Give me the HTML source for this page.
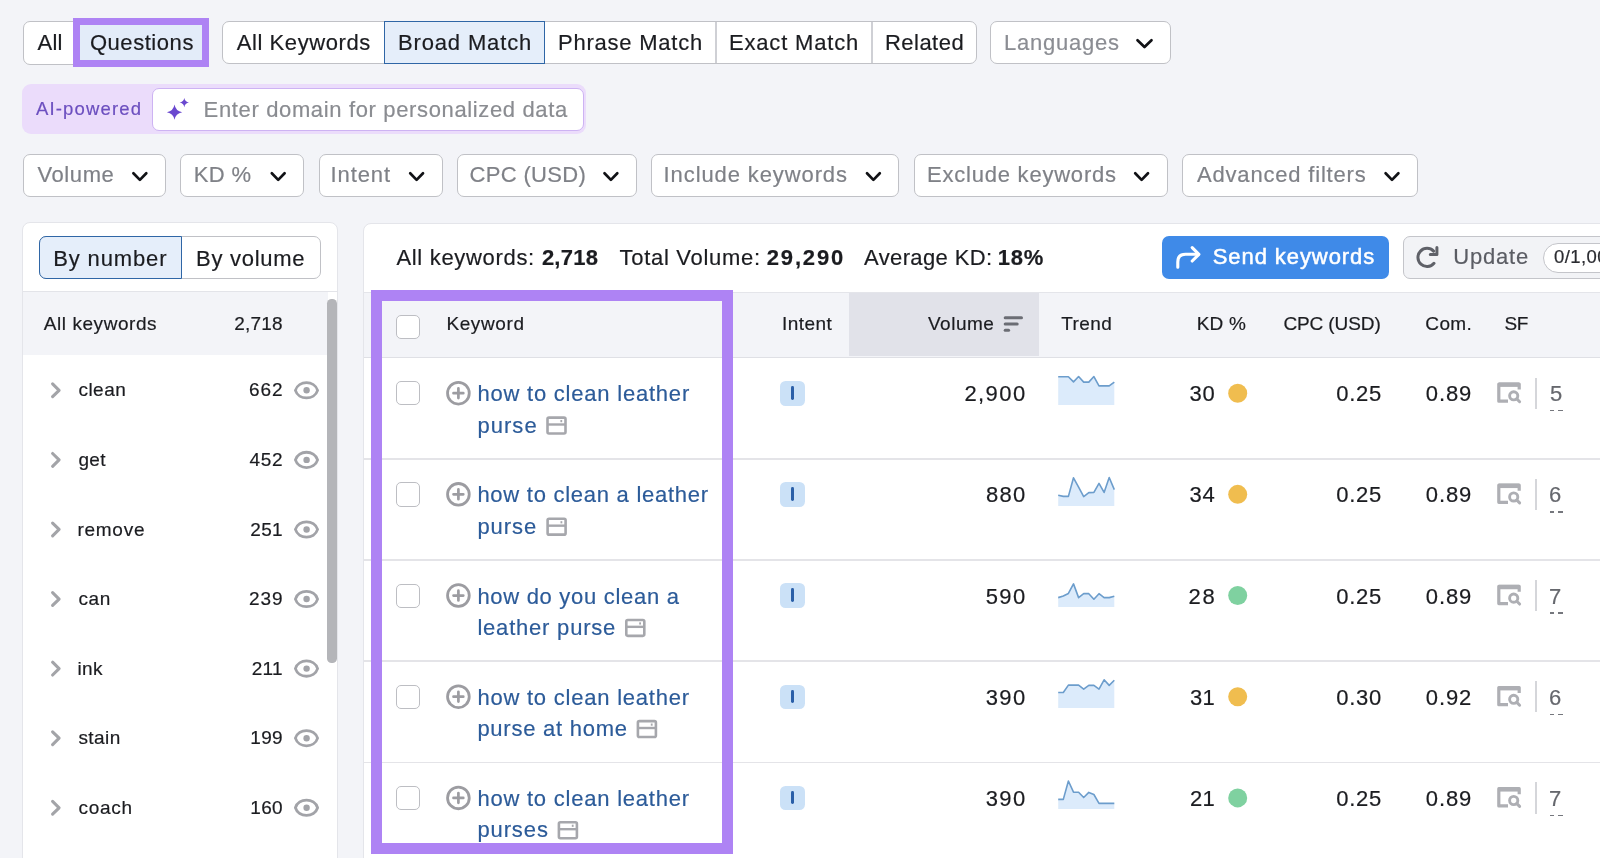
<!DOCTYPE html>
<html><head><meta charset="utf-8">
<style>
html,body{margin:0;padding:0;}
body{width:1600px;height:858px;overflow:hidden;background:#f3f4f8;position:relative;font-family:"Liberation Sans",sans-serif;}
.a{position:absolute;box-sizing:border-box;}
.t{position:absolute;white-space:pre;font-family:"Liberation Sans",sans-serif;-webkit-text-stroke-width:0.2px;}
.btn{position:absolute;box-sizing:border-box;border:1.6px solid #c0c1c6;border-radius:7px;background:#fff;}
svg{position:absolute;overflow:visible;}
</style></head><body>
<!-- Row 1 -->
<div class="btn" style="left:22.5px;top:21px;width:186px;height:43.5px;"></div>
<div class="a" style="left:73px;top:17.5px;width:135.5px;height:49.2px;border:7.5px solid #ae83f4;background:#e3ecf9;"></div>
<div class="btn" style="left:222px;top:21px;width:754.5px;height:43px;"></div>
<div class="a" style="left:384px;top:21px;width:161px;height:43px;border:1.5px solid #2f66a6;background:#e5eefa;"></div>
<div class="a" style="left:715px;top:22px;width:1.5px;height:41px;background:#cfd0d5;"></div>
<div class="a" style="left:871px;top:22px;width:1.5px;height:41px;background:#cfd0d5;"></div>
<div class="btn" style="left:990px;top:21px;width:181px;height:42.5px;"></div>
<!-- Row 2 -->
<div class="a" style="left:22px;top:84px;width:564px;height:50px;border-radius:9px;background:#ebdcfb;"></div>
<div class="a" style="left:152px;top:87.6px;width:432px;height:43px;border-radius:7px;background:#fff;border:1.5px solid #cdb3f3;"></div>
<svg style="left:0;top:0" width="1" height="1"><g fill="#6a48cf">
<path d="M174.5 104.5 Q175.6 111.1 182.2 112.2 Q175.6 113.3 174.5 119.8 Q173.4 113.3 166.9 112.2 Q173.4 111.1 174.5 104.5Z"/>
<path d="M184.3 98 Q185 101.9 189 102.6 Q185 103.3 184.3 107.2 Q183.6 103.3 179.6 102.6 Q183.6 101.9 184.3 98Z"/>
</g></svg>
<!-- Row 3 filters -->
<div class="btn" style="left:22.7px;top:154.1px;width:143.3px;height:42.5px;"></div>
<div class="btn" style="left:180px;top:154.1px;width:124.4px;height:42.5px;"></div>
<div class="btn" style="left:318.5px;top:154.1px;width:124px;height:42.5px;"></div>
<div class="btn" style="left:456.6px;top:154.1px;width:180.9px;height:42.5px;"></div>
<div class="btn" style="left:651.25px;top:154.1px;width:248.15px;height:42.5px;"></div>
<div class="btn" style="left:913.5px;top:154.1px;width:254.1px;height:42.5px;"></div>
<div class="btn" style="left:1181.8px;top:154.1px;width:236.2px;height:42.5px;"></div>
<svg style="left:0;top:0" width="1" height="1"><g fill="none" stroke="#111216" stroke-width="2.7" stroke-linecap="round" stroke-linejoin="round">
<path d="M1137.5 40.2 L1144.5 47 L1151.5 40.2"/>
<path d="M133.4 173.3 L139.9 179.9 L146.3 173.3"/>
<path d="M271.8 173.3 L278.2 179.9 L284.6 173.3"/>
<path d="M410.2 173.3 L416.6 179.9 L423 173.3"/>
<path d="M604.5 173.3 L610.9 179.9 L617.3 173.3"/>
<path d="M867 173.3 L873.4 179.9 L879.8 173.3"/>
<path d="M1135.2 173.3 L1141.6 179.9 L1148 173.3"/>
<path d="M1385.6 173.3 L1392 179.9 L1398.4 173.3"/>
</g></svg>
<!-- Left panel -->
<div class="a" style="left:21.7px;top:222.4px;width:316.8px;height:700px;border-radius:8px;background:#fff;border:1px solid #e4e5ea;"></div>
<div class="a" style="left:22.7px;top:291.2px;width:315px;height:1px;background:#e3e4e9;"></div>
<div class="a" style="left:22.7px;top:292.2px;width:305px;height:63px;background:#f3f4f8;"></div>
<div class="btn" style="left:39px;top:236px;width:282.3px;height:43px;"></div>
<div class="a" style="left:39px;top:236px;width:142.5px;height:43px;border:1.5px solid #2f66a6;background:#e5eefa;border-radius:7px 0 0 7px;"></div>
<div class="a" style="left:327.4px;top:299px;width:9.2px;height:364.4px;border-radius:4.6px;background:#b4b5b9;"></div>
<!-- Right panel -->
<div class="a" style="left:363px;top:222.5px;width:1300px;height:700px;border-radius:8px;background:#fff;border:1px solid #e4e5ea;"></div>
<div class="a" style="left:1162px;top:235.6px;width:227.4px;height:43.6px;border-radius:7px;background:#3f8ae8;"></div>
<div class="a" style="left:1403.1px;top:236.2px;width:260px;height:42.6px;border-radius:7px;background:#f2f3f6;border:1.5px solid #c4c5ca;"></div>
<div class="a" style="left:1543px;top:242.5px;width:120px;height:30px;border-radius:15px;background:#fff;border:1.5px solid #c4c5ca;"></div>
<div class="a" style="left:364px;top:292.1px;width:1240px;height:65.6px;background:#f3f4f8;border-top:1px solid #e4e5ea;border-bottom:1.5px solid #dfe0e5;"></div>
<div class="a" style="left:849px;top:293.1px;width:189.75px;height:63.1px;background:#e1e2e9;"></div>
<svg style="left:0;top:0" width="1" height="1"><g stroke="#6b6d74" stroke-width="3" stroke-linecap="round">
<path d="M1005.2 317.7 L1021.5 317.7"/><path d="M1005.2 324 L1017.2 324"/><path d="M1005.2 330.2 L1008.6 330.2"/>
</g></svg>
<div class="a" style="left:364px;top:458.10px;width:1240px;height:1.6px;background:#e4e4e8;"></div>
<div class="a" style="left:779.8px;top:381.00px;width:25px;height:24.8px;border-radius:5.5px;background:#cbe1f7;"></div>
<div class="a" style="left:790.8px;top:386.10px;width:2.9px;height:13.7px;border-radius:1.4px;background:#2a5fa8;"></div>
<div class="a" style="left:1535px;top:377.80px;width:1.7px;height:31.2px;background:#d5d6da;"></div>
<div class="a" style="left:1549.5px;top:410.00px;width:4.5px;height:1.4px;background:#75777d;"></div>
<div class="a" style="left:1558.2px;top:410.00px;width:4.5px;height:1.4px;background:#75777d;"></div>
<div class="a" style="left:364px;top:559.27px;width:1240px;height:1.6px;background:#e4e4e8;"></div>
<div class="a" style="left:779.8px;top:482.17px;width:25px;height:24.8px;border-radius:5.5px;background:#cbe1f7;"></div>
<div class="a" style="left:790.8px;top:487.27px;width:2.9px;height:13.7px;border-radius:1.4px;background:#2a5fa8;"></div>
<div class="a" style="left:1535px;top:478.97px;width:1.7px;height:31.2px;background:#d5d6da;"></div>
<div class="a" style="left:1549.5px;top:511.17px;width:4.5px;height:1.4px;background:#75777d;"></div>
<div class="a" style="left:1558.2px;top:511.17px;width:4.5px;height:1.4px;background:#75777d;"></div>
<div class="a" style="left:364px;top:660.44px;width:1240px;height:1.6px;background:#e4e4e8;"></div>
<div class="a" style="left:779.8px;top:583.34px;width:25px;height:24.8px;border-radius:5.5px;background:#cbe1f7;"></div>
<div class="a" style="left:790.8px;top:588.44px;width:2.9px;height:13.7px;border-radius:1.4px;background:#2a5fa8;"></div>
<div class="a" style="left:1535px;top:580.14px;width:1.7px;height:31.2px;background:#d5d6da;"></div>
<div class="a" style="left:1549.5px;top:612.34px;width:4.5px;height:1.4px;background:#75777d;"></div>
<div class="a" style="left:1558.2px;top:612.34px;width:4.5px;height:1.4px;background:#75777d;"></div>
<div class="a" style="left:364px;top:761.61px;width:1240px;height:1.6px;background:#e4e4e8;"></div>
<div class="a" style="left:779.8px;top:684.51px;width:25px;height:24.8px;border-radius:5.5px;background:#cbe1f7;"></div>
<div class="a" style="left:790.8px;top:689.61px;width:2.9px;height:13.7px;border-radius:1.4px;background:#2a5fa8;"></div>
<div class="a" style="left:1535px;top:681.31px;width:1.7px;height:31.2px;background:#d5d6da;"></div>
<div class="a" style="left:1549.5px;top:713.51px;width:4.5px;height:1.4px;background:#75777d;"></div>
<div class="a" style="left:1558.2px;top:713.51px;width:4.5px;height:1.4px;background:#75777d;"></div>
<div class="a" style="left:779.8px;top:785.68px;width:25px;height:24.8px;border-radius:5.5px;background:#cbe1f7;"></div>
<div class="a" style="left:790.8px;top:790.78px;width:2.9px;height:13.7px;border-radius:1.4px;background:#2a5fa8;"></div>
<div class="a" style="left:1535px;top:782.48px;width:1.7px;height:31.2px;background:#d5d6da;"></div>
<div class="a" style="left:1549.5px;top:814.68px;width:4.5px;height:1.4px;background:#75777d;"></div>
<div class="a" style="left:1558.2px;top:814.68px;width:4.5px;height:1.4px;background:#75777d;"></div>
<div class="a" style="left:395.80px;top:315.00px;width:24px;height:24.3px;border-radius:5px;background:#fff;border:1.5px solid #bdbec3;"></div>
<div class="a" style="left:395.80px;top:381.20px;width:24px;height:24.3px;border-radius:5px;background:#fff;border:1.5px solid #bdbec3;"></div>
<div class="a" style="left:395.80px;top:482.37px;width:24px;height:24.3px;border-radius:5px;background:#fff;border:1.5px solid #bdbec3;"></div>
<div class="a" style="left:395.80px;top:583.54px;width:24px;height:24.3px;border-radius:5px;background:#fff;border:1.5px solid #bdbec3;"></div>
<div class="a" style="left:395.80px;top:684.71px;width:24px;height:24.3px;border-radius:5px;background:#fff;border:1.5px solid #bdbec3;"></div>
<div class="a" style="left:395.80px;top:785.88px;width:24px;height:24.3px;border-radius:5px;background:#fff;border:1.5px solid #bdbec3;"></div>
<svg style="left:0;top:0" width="1" height="1">
<path d="M52.6 383.90 L59.1 390.30 L52.6 396.70" fill="none" stroke="#a3a4a8" stroke-width="3.1" stroke-linecap="round" stroke-linejoin="round"/>
<path d="M295.4 390.30 C298.5 380.10 314.5 380.10 317.6 390.30 C314.5 400.50 298.5 400.50 295.4 390.30Z" fill="none" stroke="#a2a3a8" stroke-width="2.8" stroke-linejoin="round"/>
<circle cx="306.6" cy="390.30" r="3.2" fill="#a2a3a8"/>
<path d="M52.6 453.48 L59.1 459.88 L52.6 466.28" fill="none" stroke="#a3a4a8" stroke-width="3.1" stroke-linecap="round" stroke-linejoin="round"/>
<path d="M295.4 459.88 C298.5 449.68 314.5 449.68 317.6 459.88 C314.5 470.08 298.5 470.08 295.4 459.88Z" fill="none" stroke="#a2a3a8" stroke-width="2.8" stroke-linejoin="round"/>
<circle cx="306.6" cy="459.88" r="3.2" fill="#a2a3a8"/>
<path d="M52.6 523.06 L59.1 529.46 L52.6 535.86" fill="none" stroke="#a3a4a8" stroke-width="3.1" stroke-linecap="round" stroke-linejoin="round"/>
<path d="M295.4 529.46 C298.5 519.26 314.5 519.26 317.6 529.46 C314.5 539.66 298.5 539.66 295.4 529.46Z" fill="none" stroke="#a2a3a8" stroke-width="2.8" stroke-linejoin="round"/>
<circle cx="306.6" cy="529.46" r="3.2" fill="#a2a3a8"/>
<path d="M52.6 592.64 L59.1 599.04 L52.6 605.44" fill="none" stroke="#a3a4a8" stroke-width="3.1" stroke-linecap="round" stroke-linejoin="round"/>
<path d="M295.4 599.04 C298.5 588.84 314.5 588.84 317.6 599.04 C314.5 609.24 298.5 609.24 295.4 599.04Z" fill="none" stroke="#a2a3a8" stroke-width="2.8" stroke-linejoin="round"/>
<circle cx="306.6" cy="599.04" r="3.2" fill="#a2a3a8"/>
<path d="M52.6 662.22 L59.1 668.62 L52.6 675.02" fill="none" stroke="#a3a4a8" stroke-width="3.1" stroke-linecap="round" stroke-linejoin="round"/>
<path d="M295.4 668.62 C298.5 658.42 314.5 658.42 317.6 668.62 C314.5 678.82 298.5 678.82 295.4 668.62Z" fill="none" stroke="#a2a3a8" stroke-width="2.8" stroke-linejoin="round"/>
<circle cx="306.6" cy="668.62" r="3.2" fill="#a2a3a8"/>
<path d="M52.6 731.80 L59.1 738.20 L52.6 744.60" fill="none" stroke="#a3a4a8" stroke-width="3.1" stroke-linecap="round" stroke-linejoin="round"/>
<path d="M295.4 738.20 C298.5 728.00 314.5 728.00 317.6 738.20 C314.5 748.40 298.5 748.40 295.4 738.20Z" fill="none" stroke="#a2a3a8" stroke-width="2.8" stroke-linejoin="round"/>
<circle cx="306.6" cy="738.20" r="3.2" fill="#a2a3a8"/>
<path d="M52.6 801.38 L59.1 807.78 L52.6 814.18" fill="none" stroke="#a3a4a8" stroke-width="3.1" stroke-linecap="round" stroke-linejoin="round"/>
<path d="M295.4 807.78 C298.5 797.58 314.5 797.58 317.6 807.78 C314.5 817.98 298.5 817.98 295.4 807.78Z" fill="none" stroke="#a2a3a8" stroke-width="2.8" stroke-linejoin="round"/>
<circle cx="306.6" cy="807.78" r="3.2" fill="#a2a3a8"/>
<circle cx="458.4" cy="393.20" r="10.85" fill="none" stroke="#9c9ca1" stroke-width="2.8"/>
<path d="M453.5 393.20 H463.3 M458.4 388.30 V398.10" stroke="#9c9ca1" stroke-width="2.7" stroke-linecap="round"/>
<rect x="547.50" y="417.60" width="18" height="15.9" rx="1.5" fill="none" stroke="#a6a7ac" stroke-width="2.6"/>
<path d="M547.50 424.50 H565.50" stroke="#a6a7ac" stroke-width="2.4"/>
<rect x="560.40" y="420.00" width="1.8" height="2.2" fill="#a6a7ac"/>
<circle cx="1237.7" cy="393.20" r="9.5" fill="#f0bd4f"/>
<path d="M1508 401.20 H1498.8 V384.00 H1519.2 V389.50" fill="none" stroke="#aeafb4" stroke-width="3.2" stroke-linejoin="round"/>
<path d="M1498.8 384.70 H1519.2" stroke="#aeafb4" stroke-width="4.4"/>
<circle cx="1513.7" cy="395.80" r="4.1" fill="none" stroke="#aeafb4" stroke-width="2.9"/>
<path d="M1516.8 398.90 L1519.6 401.70" stroke="#aeafb4" stroke-width="3" stroke-linecap="round"/>
<circle cx="458.4" cy="494.37" r="10.85" fill="none" stroke="#9c9ca1" stroke-width="2.8"/>
<path d="M453.5 494.37 H463.3 M458.4 489.47 V499.27" stroke="#9c9ca1" stroke-width="2.7" stroke-linecap="round"/>
<rect x="547.60" y="518.77" width="18" height="15.9" rx="1.5" fill="none" stroke="#a6a7ac" stroke-width="2.6"/>
<path d="M547.60 525.67 H565.60" stroke="#a6a7ac" stroke-width="2.4"/>
<rect x="560.50" y="521.17" width="1.8" height="2.2" fill="#a6a7ac"/>
<circle cx="1237.7" cy="494.37" r="9.5" fill="#f0bd4f"/>
<path d="M1508 502.37 H1498.8 V485.17 H1519.2 V490.67" fill="none" stroke="#aeafb4" stroke-width="3.2" stroke-linejoin="round"/>
<path d="M1498.8 485.87 H1519.2" stroke="#aeafb4" stroke-width="4.4"/>
<circle cx="1513.7" cy="496.97" r="4.1" fill="none" stroke="#aeafb4" stroke-width="2.9"/>
<path d="M1516.8 500.07 L1519.6 502.87" stroke="#aeafb4" stroke-width="3" stroke-linecap="round"/>
<circle cx="458.4" cy="595.54" r="10.85" fill="none" stroke="#9c9ca1" stroke-width="2.8"/>
<path d="M453.5 595.54 H463.3 M458.4 590.64 V600.44" stroke="#9c9ca1" stroke-width="2.7" stroke-linecap="round"/>
<rect x="626.30" y="619.94" width="18" height="15.9" rx="1.5" fill="none" stroke="#a6a7ac" stroke-width="2.6"/>
<path d="M626.30 626.84 H644.30" stroke="#a6a7ac" stroke-width="2.4"/>
<rect x="639.20" y="622.34" width="1.8" height="2.2" fill="#a6a7ac"/>
<circle cx="1237.7" cy="595.54" r="9.5" fill="#7fd1a0"/>
<path d="M1508 603.54 H1498.8 V586.34 H1519.2 V591.84" fill="none" stroke="#aeafb4" stroke-width="3.2" stroke-linejoin="round"/>
<path d="M1498.8 587.04 H1519.2" stroke="#aeafb4" stroke-width="4.4"/>
<circle cx="1513.7" cy="598.14" r="4.1" fill="none" stroke="#aeafb4" stroke-width="2.9"/>
<path d="M1516.8 601.24 L1519.6 604.04" stroke="#aeafb4" stroke-width="3" stroke-linecap="round"/>
<circle cx="458.4" cy="696.71" r="10.85" fill="none" stroke="#9c9ca1" stroke-width="2.8"/>
<path d="M453.5 696.71 H463.3 M458.4 691.81 V701.61" stroke="#9c9ca1" stroke-width="2.7" stroke-linecap="round"/>
<rect x="637.90" y="721.11" width="18" height="15.9" rx="1.5" fill="none" stroke="#a6a7ac" stroke-width="2.6"/>
<path d="M637.90 728.01 H655.90" stroke="#a6a7ac" stroke-width="2.4"/>
<rect x="650.80" y="723.51" width="1.8" height="2.2" fill="#a6a7ac"/>
<circle cx="1237.7" cy="696.71" r="9.5" fill="#f0bd4f"/>
<path d="M1508 704.71 H1498.8 V687.51 H1519.2 V693.01" fill="none" stroke="#aeafb4" stroke-width="3.2" stroke-linejoin="round"/>
<path d="M1498.8 688.21 H1519.2" stroke="#aeafb4" stroke-width="4.4"/>
<circle cx="1513.7" cy="699.31" r="4.1" fill="none" stroke="#aeafb4" stroke-width="2.9"/>
<path d="M1516.8 702.41 L1519.6 705.21" stroke="#aeafb4" stroke-width="3" stroke-linecap="round"/>
<circle cx="458.4" cy="797.88" r="10.85" fill="none" stroke="#9c9ca1" stroke-width="2.8"/>
<path d="M453.5 797.88 H463.3 M458.4 792.98 V802.78" stroke="#9c9ca1" stroke-width="2.7" stroke-linecap="round"/>
<rect x="558.90" y="822.28" width="18" height="15.9" rx="1.5" fill="none" stroke="#a6a7ac" stroke-width="2.6"/>
<path d="M558.90 829.18 H576.90" stroke="#a6a7ac" stroke-width="2.4"/>
<rect x="571.80" y="824.68" width="1.8" height="2.2" fill="#a6a7ac"/>
<circle cx="1237.7" cy="797.88" r="9.5" fill="#7fd1a0"/>
<path d="M1508 805.88 H1498.8 V788.68 H1519.2 V794.18" fill="none" stroke="#aeafb4" stroke-width="3.2" stroke-linejoin="round"/>
<path d="M1498.8 789.38 H1519.2" stroke="#aeafb4" stroke-width="4.4"/>
<circle cx="1513.7" cy="800.48" r="4.1" fill="none" stroke="#aeafb4" stroke-width="2.9"/>
<path d="M1516.8 803.58 L1519.6 806.38" stroke="#aeafb4" stroke-width="3" stroke-linecap="round"/>
<polygon points="1058.20,376.76 1063.30,376.76 1068.40,376.76 1073.50,381.88 1078.60,376.52 1083.70,382.12 1088.80,382.12 1093.90,376.52 1099.00,385.85 1104.10,385.85 1109.20,385.85 1114.30,382.12 1114.30,404.90 1058.20,404.90" fill="#dcebfb"/>
<polyline points="1058.20,376.76 1063.30,376.76 1068.40,376.76 1073.50,381.88 1078.60,376.52 1083.70,382.12 1088.80,382.12 1093.90,376.52 1099.00,385.85 1104.10,385.85 1109.20,385.85 1114.30,382.12" fill="none" stroke="#6c9dcc" stroke-width="1.6" stroke-linejoin="round"/>
<polygon points="1058.20,495.23 1063.30,496.40 1068.40,496.40 1073.50,477.76 1078.60,487.17 1083.70,496.63 1088.80,492.67 1093.90,492.44 1099.00,483.35 1104.10,492.44 1109.20,477.52 1114.30,489.64 1114.30,505.90 1058.20,505.90" fill="#dcebfb"/>
<polyline points="1058.20,495.23 1063.30,496.40 1068.40,496.40 1073.50,477.76 1078.60,487.17 1083.70,496.63 1088.80,492.67 1093.90,492.44 1099.00,483.35 1104.10,492.44 1109.20,477.52 1114.30,489.64" fill="none" stroke="#6c9dcc" stroke-width="1.6" stroke-linejoin="round"/>
<polygon points="1058.20,597.63 1063.30,596.00 1068.40,593.44 1073.50,583.88 1078.60,597.63 1083.70,593.67 1088.80,593.67 1093.90,599.26 1099.00,593.67 1104.10,597.63 1109.20,597.63 1114.30,596.23 1114.30,606.90 1058.20,606.90" fill="#dcebfb"/>
<polyline points="1058.20,597.63 1063.30,596.00 1068.40,593.44 1073.50,583.88 1078.60,597.63 1083.70,593.67 1088.80,593.67 1093.90,599.26 1099.00,593.67 1104.10,597.63 1109.20,597.63 1114.30,596.23" fill="none" stroke="#6c9dcc" stroke-width="1.6" stroke-linejoin="round"/>
<polygon points="1058.20,692.57 1063.30,692.57 1068.40,685.12 1073.50,685.12 1078.60,685.12 1083.70,689.08 1088.80,685.35 1093.90,685.35 1099.00,689.08 1104.10,679.76 1109.20,685.35 1114.30,680.22 1114.30,707.90 1058.20,707.90" fill="#dcebfb"/>
<polyline points="1058.20,692.57 1063.30,692.57 1068.40,685.12 1073.50,685.12 1078.60,685.12 1083.70,689.08 1088.80,685.35 1093.90,685.35 1099.00,689.08 1104.10,679.76 1109.20,685.35 1114.30,680.22" fill="none" stroke="#6c9dcc" stroke-width="1.6" stroke-linejoin="round"/>
<polygon points="1058.20,799.40 1063.30,799.40 1068.40,780.99 1073.50,792.18 1078.60,792.18 1083.70,797.54 1088.80,792.41 1093.90,794.51 1099.00,803.36 1104.10,803.36 1109.20,803.36 1114.30,803.36 1114.30,808.90 1058.20,808.90" fill="#dcebfb"/>
<polyline points="1058.20,799.40 1063.30,799.40 1068.40,780.99 1073.50,792.18 1078.60,792.18 1083.70,797.54 1088.80,792.41 1093.90,794.51 1099.00,803.36 1104.10,803.36 1109.20,803.36 1114.30,803.36" fill="none" stroke="#6c9dcc" stroke-width="1.6" stroke-linejoin="round"/>
<path d="M1177.8 267.2 V262 Q1177.8 254.3 1185.5 254.3 H1198" fill="none" stroke="#fff" stroke-width="3.1" stroke-linecap="round"/>
<path d="M1192.2 247.6 L1198.9 254.3 L1192.2 261" fill="none" stroke="#fff" stroke-width="3.1" stroke-linecap="round" stroke-linejoin="round"/>
<path d="M1433.6 251.1 A9.1 9.1 0 1 0 1434.0 263.3" fill="none" stroke="#5f6168" stroke-width="3" stroke-linecap="round"/>
<path d="M1436.9 247.6 V254.6 H1430.3" fill="none" stroke="#5f6168" stroke-width="3" stroke-linecap="round" stroke-linejoin="round"/>
</svg>
<div style="position:absolute;left:0;top:0;width:1600px;height:858px;will-change:transform;">
<div class="t" style="left:37.50px;top:32.20px;font-size:22px;line-height:22px;letter-spacing:0.219px;color:#1b1c20;">All</div>
<div class="t" style="left:89.90px;top:32.20px;font-size:22px;line-height:22px;letter-spacing:0.556px;color:#1b1c20;">Questions</div>
<div class="t" style="left:236.70px;top:32.20px;font-size:22px;line-height:22px;letter-spacing:0.586px;color:#1b1c20;">All Keywords</div>
<div class="t" style="left:398.00px;top:32.20px;font-size:22px;line-height:22px;letter-spacing:0.851px;color:#1b1c20;">Broad Match</div>
<div class="t" style="left:558.00px;top:32.20px;font-size:22px;line-height:22px;letter-spacing:0.773px;color:#1b1c20;">Phrase Match</div>
<div class="t" style="left:729.00px;top:32.20px;font-size:22px;line-height:22px;letter-spacing:0.819px;color:#1b1c20;">Exact Match</div>
<div class="t" style="left:885.00px;top:32.20px;font-size:22px;line-height:22px;letter-spacing:0.468px;color:#1b1c20;">Related</div>
<div class="t" style="left:1004.00px;top:32.20px;font-size:22px;line-height:22px;letter-spacing:0.765px;color:#8b8d93;">Languages</div>
<div class="t" style="left:35.90px;top:99.78px;font-size:18.5px;line-height:18.5px;letter-spacing:1.165px;color:#6c4fbf;">AI-powered</div>
<div class="t" style="left:203.60px;top:98.80px;font-size:22px;line-height:22px;letter-spacing:0.643px;color:#8a8c91;">Enter domain for personalized data</div>
<div class="t" style="left:37.40px;top:164.40px;font-size:22px;line-height:22px;letter-spacing:0.611px;color:#7f8187;">Volume</div>
<div class="t" style="left:193.80px;top:164.40px;font-size:22px;line-height:22px;letter-spacing:0.309px;color:#7f8187;">KD %</div>
<div class="t" style="left:330.50px;top:164.40px;font-size:22px;line-height:22px;letter-spacing:0.914px;color:#7f8187;">Intent</div>
<div class="t" style="left:469.60px;top:164.40px;font-size:22px;line-height:22px;letter-spacing:0.308px;color:#7f8187;">CPC (USD)</div>
<div class="t" style="left:663.60px;top:164.40px;font-size:22px;line-height:22px;letter-spacing:0.895px;color:#7f8187;">Include keywords</div>
<div class="t" style="left:927.00px;top:164.40px;font-size:22px;line-height:22px;letter-spacing:0.780px;color:#7f8187;">Exclude keywords</div>
<div class="t" style="left:1197.00px;top:164.40px;font-size:22px;line-height:22px;letter-spacing:0.812px;color:#7f8187;">Advanced filters</div>
<div class="t" style="left:53.20px;top:247.90px;font-size:22px;line-height:22px;letter-spacing:0.868px;color:#1b1c20;">By number</div>
<div class="t" style="left:196.00px;top:247.90px;font-size:22px;line-height:22px;letter-spacing:0.729px;color:#1b1c20;">By volume</div>
<div class="t" style="left:43.75px;top:314.05px;font-size:19px;line-height:19px;letter-spacing:0.564px;color:#1b1c20;">All keywords</div>
<div class="t" style="left:234.22px;top:314.05px;font-size:19px;line-height:19px;letter-spacing:0.200px;color:#1b1c20;">2,718</div>
<div class="t" style="left:78.40px;top:380.45px;font-size:19px;line-height:19px;letter-spacing:0.486px;color:#1b1c20;">clean</div>
<div class="t" style="left:249.00px;top:380.45px;font-size:19px;line-height:19px;letter-spacing:0.933px;color:#1b1c20;">662</div>
<div class="t" style="left:78.40px;top:450.03px;font-size:19px;line-height:19px;letter-spacing:0.333px;color:#1b1c20;">get</div>
<div class="t" style="left:249.50px;top:450.03px;font-size:19px;line-height:19px;letter-spacing:0.683px;color:#1b1c20;">452</div>
<div class="t" style="left:77.40px;top:519.61px;font-size:19px;line-height:19px;letter-spacing:0.742px;color:#1b1c20;">remove</div>
<div class="t" style="left:250.37px;top:519.61px;font-size:19px;line-height:19px;letter-spacing:0.250px;color:#1b1c20;">251</div>
<div class="t" style="left:78.40px;top:589.19px;font-size:19px;line-height:19px;letter-spacing:0.617px;color:#1b1c20;">can</div>
<div class="t" style="left:249.00px;top:589.19px;font-size:19px;line-height:19px;letter-spacing:0.933px;color:#1b1c20;">239</div>
<div class="t" style="left:77.40px;top:658.77px;font-size:19px;line-height:19px;letter-spacing:0.406px;color:#1b1c20;">ink</div>
<div class="t" style="left:251.78px;top:658.77px;font-size:19px;line-height:19px;letter-spacing:0.250px;color:#1b1c20;">211</div>
<div class="t" style="left:78.40px;top:728.35px;font-size:19px;line-height:19px;letter-spacing:0.433px;color:#1b1c20;">stain</div>
<div class="t" style="left:250.37px;top:728.35px;font-size:19px;line-height:19px;letter-spacing:0.250px;color:#1b1c20;">199</div>
<div class="t" style="left:78.40px;top:797.93px;font-size:19px;line-height:19px;letter-spacing:0.742px;color:#1b1c20;">coach</div>
<div class="t" style="left:250.37px;top:797.93px;font-size:19px;line-height:19px;letter-spacing:0.250px;color:#1b1c20;">160</div>
<div class="t" style="left:396.40px;top:247.20px;font-size:22px;line-height:22px;letter-spacing:0.685px;color:#1b1c20;">All keywords:</div>
<div class="t" style="left:541.90px;top:247.20px;font-size:22px;line-height:22px;font-weight:700;letter-spacing:0.245px;color:#1b1c20;">2,718</div>
<div class="t" style="left:619.50px;top:247.20px;font-size:22px;line-height:22px;letter-spacing:0.711px;color:#1b1c20;">Total Volume:</div>
<div class="t" style="left:766.80px;top:247.20px;font-size:22px;line-height:22px;font-weight:700;letter-spacing:1.829px;color:#1b1c20;">29,290</div>
<div class="t" style="left:864.00px;top:247.20px;font-size:22px;line-height:22px;letter-spacing:0.378px;color:#1b1c20;">Average KD:</div>
<div class="t" style="left:997.80px;top:247.20px;font-size:22px;line-height:22px;font-weight:700;letter-spacing:0.765px;color:#1b1c20;">18%</div>
<div class="t" style="left:1212.75px;top:246.20px;font-size:22px;line-height:22px;letter-spacing:0.920px;color:#ffffff;-webkit-text-stroke:0.5px #fff;">Send keywords</div>
<div class="t" style="left:1453.30px;top:246.30px;font-size:22px;line-height:22px;letter-spacing:0.799px;color:#5b5d64;">Update</div>
<div class="t" style="left:1554.00px;top:247.97px;font-size:18.5px;line-height:18.5px;letter-spacing:0.400px;color:#2a2b30;">0/1,000</div>
<div class="t" style="left:446.40px;top:314.35px;font-size:19px;line-height:19px;letter-spacing:0.608px;color:#1b1c20;">Keyword</div>
<div class="t" style="left:782.00px;top:314.35px;font-size:19px;line-height:19px;letter-spacing:0.448px;color:#1b1c20;">Intent</div>
<div class="t" style="left:928.00px;top:314.35px;font-size:19px;line-height:19px;letter-spacing:0.489px;color:#1b1c20;">Volume</div>
<div class="t" style="left:1061.25px;top:314.35px;font-size:19px;line-height:19px;letter-spacing:0.410px;color:#1b1c20;">Trend</div>
<div class="t" style="left:1196.70px;top:314.35px;font-size:19px;line-height:19px;letter-spacing:0.209px;color:#1b1c20;">KD %</div>
<div class="t" style="left:1283.40px;top:314.35px;font-size:19px;line-height:19px;letter-spacing:-0.105px;color:#1b1c20;">CPC (USD)</div>
<div class="t" style="left:1425.30px;top:314.35px;font-size:19px;line-height:19px;letter-spacing:0.362px;color:#1b1c20;">Com.</div>
<div class="t" style="left:1504.60px;top:314.35px;font-size:19px;line-height:19px;letter-spacing:-0.600px;color:#1b1c20;">SF</div>
<div class="t" style="left:477.40px;top:383.30px;font-size:22px;line-height:22px;letter-spacing:0.785px;color:#2c5b99;">how to clean leather</div>
<div class="t" style="left:477.40px;top:414.50px;font-size:22px;line-height:22px;letter-spacing:1.051px;color:#2c5b99;">purse</div>
<div class="t" style="left:964.40px;top:383.30px;font-size:22px;line-height:22px;letter-spacing:1.420px;color:#1b1c20;">2,900</div>
<div class="t" style="left:1189.40px;top:383.30px;font-size:22px;line-height:22px;letter-spacing:0.965px;color:#1b1c20;">30</div>
<div class="t" style="left:1336.20px;top:383.30px;font-size:22px;line-height:22px;letter-spacing:0.706px;color:#1b1c20;">0.25</div>
<div class="t" style="left:1425.80px;top:383.30px;font-size:22px;line-height:22px;letter-spacing:0.906px;color:#1b1c20;">0.89</div>
<div class="t" style="left:1549.90px;top:383.30px;font-size:22px;line-height:22px;color:#65676d;">5</div>
<div class="t" style="left:477.40px;top:484.47px;font-size:22px;line-height:22px;letter-spacing:0.737px;color:#2c5b99;">how to clean a leather</div>
<div class="t" style="left:477.40px;top:515.67px;font-size:22px;line-height:22px;letter-spacing:0.951px;color:#2c5b99;">purse</div>
<div class="t" style="left:985.90px;top:484.47px;font-size:22px;line-height:22px;letter-spacing:1.265px;color:#1b1c20;">880</div>
<div class="t" style="left:1189.40px;top:484.47px;font-size:22px;line-height:22px;letter-spacing:0.965px;color:#1b1c20;">34</div>
<div class="t" style="left:1336.20px;top:484.47px;font-size:22px;line-height:22px;letter-spacing:0.706px;color:#1b1c20;">0.25</div>
<div class="t" style="left:1425.80px;top:484.47px;font-size:22px;line-height:22px;letter-spacing:0.906px;color:#1b1c20;">0.89</div>
<div class="t" style="left:1548.90px;top:484.47px;font-size:22px;line-height:22px;color:#65676d;">6</div>
<div class="t" style="left:477.40px;top:585.64px;font-size:22px;line-height:22px;letter-spacing:0.703px;color:#2c5b99;">how do you clean a</div>
<div class="t" style="left:477.40px;top:616.84px;font-size:22px;line-height:22px;letter-spacing:0.794px;color:#2c5b99;">leather purse</div>
<div class="t" style="left:985.70px;top:585.64px;font-size:22px;line-height:22px;letter-spacing:1.365px;color:#1b1c20;">590</div>
<div class="t" style="left:1188.40px;top:585.64px;font-size:22px;line-height:22px;letter-spacing:1.965px;color:#1b1c20;">28</div>
<div class="t" style="left:1336.20px;top:585.64px;font-size:22px;line-height:22px;letter-spacing:0.706px;color:#1b1c20;">0.25</div>
<div class="t" style="left:1425.80px;top:585.64px;font-size:22px;line-height:22px;letter-spacing:0.906px;color:#1b1c20;">0.89</div>
<div class="t" style="left:1548.90px;top:585.64px;font-size:22px;line-height:22px;color:#65676d;">7</div>
<div class="t" style="left:477.40px;top:686.81px;font-size:22px;line-height:22px;letter-spacing:0.780px;color:#2c5b99;">how to clean leather</div>
<div class="t" style="left:477.40px;top:718.01px;font-size:22px;line-height:22px;letter-spacing:0.742px;color:#2c5b99;">purse at home</div>
<div class="t" style="left:985.70px;top:686.81px;font-size:22px;line-height:22px;letter-spacing:1.365px;color:#1b1c20;">390</div>
<div class="t" style="left:1189.96px;top:686.81px;font-size:22px;line-height:22px;letter-spacing:0.400px;color:#1b1c20;">31</div>
<div class="t" style="left:1336.20px;top:686.81px;font-size:22px;line-height:22px;letter-spacing:0.706px;color:#1b1c20;">0.30</div>
<div class="t" style="left:1425.80px;top:686.81px;font-size:22px;line-height:22px;letter-spacing:0.906px;color:#1b1c20;">0.92</div>
<div class="t" style="left:1548.90px;top:686.81px;font-size:22px;line-height:22px;color:#65676d;">6</div>
<div class="t" style="left:477.40px;top:787.98px;font-size:22px;line-height:22px;letter-spacing:0.780px;color:#2c5b99;">how to clean leather</div>
<div class="t" style="left:477.40px;top:819.18px;font-size:22px;line-height:22px;letter-spacing:0.894px;color:#2c5b99;">purses</div>
<div class="t" style="left:985.70px;top:787.98px;font-size:22px;line-height:22px;letter-spacing:1.365px;color:#1b1c20;">390</div>
<div class="t" style="left:1189.96px;top:787.98px;font-size:22px;line-height:22px;letter-spacing:0.400px;color:#1b1c20;">21</div>
<div class="t" style="left:1336.20px;top:787.98px;font-size:22px;line-height:22px;letter-spacing:0.706px;color:#1b1c20;">0.25</div>
<div class="t" style="left:1425.80px;top:787.98px;font-size:22px;line-height:22px;letter-spacing:0.906px;color:#1b1c20;">0.89</div>
<div class="t" style="left:1548.90px;top:787.98px;font-size:22px;line-height:22px;color:#65676d;">7</div>
</div>
<!-- purple highlight -->
<div class="a" style="left:371.3px;top:290.3px;width:361.7px;height:563.7px;border:11.8px solid #ae83f4;"></div>
</body></html>
